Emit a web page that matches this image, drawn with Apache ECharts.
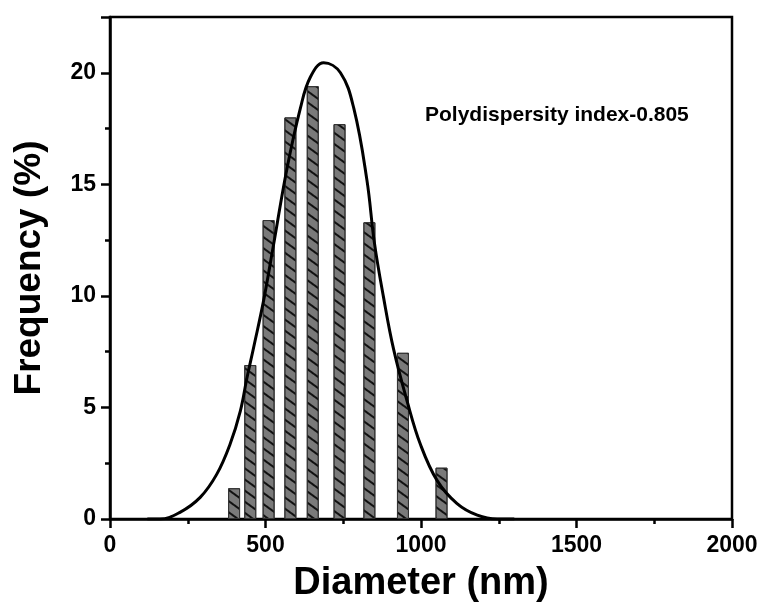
<!DOCTYPE html>
<html lang="en">
<head>
  <meta charset="UTF-8">
  <title>Diameter distribution</title>
  <style>
    body {
      margin: 0;
      padding: 0;
      background: #fff;
    }
    #main {
      width: 768px;
      height: 608px;
    }
  </style>
  <script src="https://cdn.jsdelivr.net/npm/echarts@6/dist/echarts.min.js"></script>
</head>
<body>
<div id="main"></div>

<script>
  // histogram bins (diameter in nm, frequency in %)
  var binCenters = [399, 451, 510, 580, 652, 738, 834, 942, 1066];
  var binFreq = [1.38, 6.9, 13.4, 18.0, 19.4, 17.7, 13.3, 7.45, 2.3];

  // fitted curve, points
  var fitX = [120, 160, 225, 290, 343, 386, 419, 440, 462, 494, 526, 569, 612, 644, 687,
              741, 784, 826, 850, 880, 912, 955, 998, 1052, 1116, 1181, 1245, 1300];
  var fitY = [0, 0, 0.3, 0.97, 2.0, 3.35, 4.84, 6.3, 7.7, 9.8, 12.3, 15.7, 18.4, 19.8, 20.45,
              20.0, 18.4, 15.2, 12.4, 9.9, 7.6, 5.3, 3.35, 1.72, 0.69, 0.17, 0, 0];

  var xTicks = [0, 500, 1000, 1500, 2000];
  var yTicks = [0, 5, 10, 15, 20];
  var noteText = 'Polydispersity index-0.805';

  var fontFam = 'Arial, "Liberation Sans", sans-serif';

  var barData = binCenters.map(function(x, i) { return [x, binFreq[i]]; });
  var fitData = fitX.map(function(x, i) { return [x, fitY[i]]; });

  var chart = echarts.init(document.getElementById('main'));

  var option = {
    animation: false,
    backgroundColor: '#fff',
    grid: {
      left: 110,
      right: 36,
      top: 17,
      bottom: 86,
      show: true,
      borderColor: '#000',
      borderWidth: 2.5
    },
    xAxis: {
      type: 'value',
      min: xTicks[0],
      max: xTicks[xTicks.length - 1],
      interval: 500,
      name: 'Diameter (nm)',
      nameLocation: 'middle',
      nameGap: 46,
      nameTextStyle: {
        fontFamily: fontFam,
        fontWeight: 'bold',
        fontSize: 38,
        color: '#000'
      },
      axisLine: { lineStyle: { color: '#000', width: 2.5 } },
      axisTick: { length: 9, lineStyle: { color: '#000', width: 2.5 } },
      minorTick: { show: true, splitNumber: 2, length: 5, lineStyle: { color: '#000', width: 2.5 } },
      splitLine: { show: false },
      axisLabel: {
        margin: 15,
        fontFamily: fontFam,
        fontWeight: 'bold',
        fontSize: 23,
        color: '#000',
        formatter: function(v) { return String(v); }
      }
    },
    yAxis: {
      type: 'value',
      min: yTicks[0],
      max: 22.5,
      interval: 5,
      name: 'Frequency (%)',
      nameLocation: 'middle',
      nameGap: 62,
      nameTextStyle: {
        fontFamily: fontFam,
        fontWeight: 'bold',
        fontSize: 37,
        color: '#000'
      },
      axisLine: { lineStyle: { color: '#000', width: 2.5 } },
      axisTick: { length: 9, lineStyle: { color: '#000', width: 2.5 } },
      minorTick: { show: true, splitNumber: 2, length: 5, lineStyle: { color: '#000', width: 2.5 } },
      splitLine: { show: false },
      axisLabel: {
        margin: 14,
        showMaxLabel: false,
        fontFamily: fontFam,
        fontWeight: 'bold',
        fontSize: 23,
        color: '#000',
        formatter: function(v) { return yTicks.indexOf(v) >= 0 ? String(v) : ''; }
      }
    },
    graphic: [
      {
        type: 'text',
        left: 425,
        top: 105,
        style: {
          text: noteText,
          fontFamily: fontFam,
          fontWeight: 'bold',
          fontSize: 21,
          fill: '#000'
        }
      }
    ],
    series: [
      {
        type: 'bar',
        data: barData,
        barWidth: 12,
        itemStyle: {
          color: '#7a7a7a',
          borderColor: '#333',
          borderWidth: 1,
          decal: {
            symbol: 'rect',
            symbolSize: 1,
            color: '#111',
            dashArrayX: [1, 0],
            dashArrayY: [2, 7],
            rotation: Math.PI / 5
          }
        }
      },
      {
        type: 'line',
        data: fitData,
        smooth: 0.4,
        showSymbol: false,
        lineStyle: { color: '#000', width: 3 },
        z: 5
      }
    ]
  };

  chart.setOption(option);
</script>
</body>
</html>
